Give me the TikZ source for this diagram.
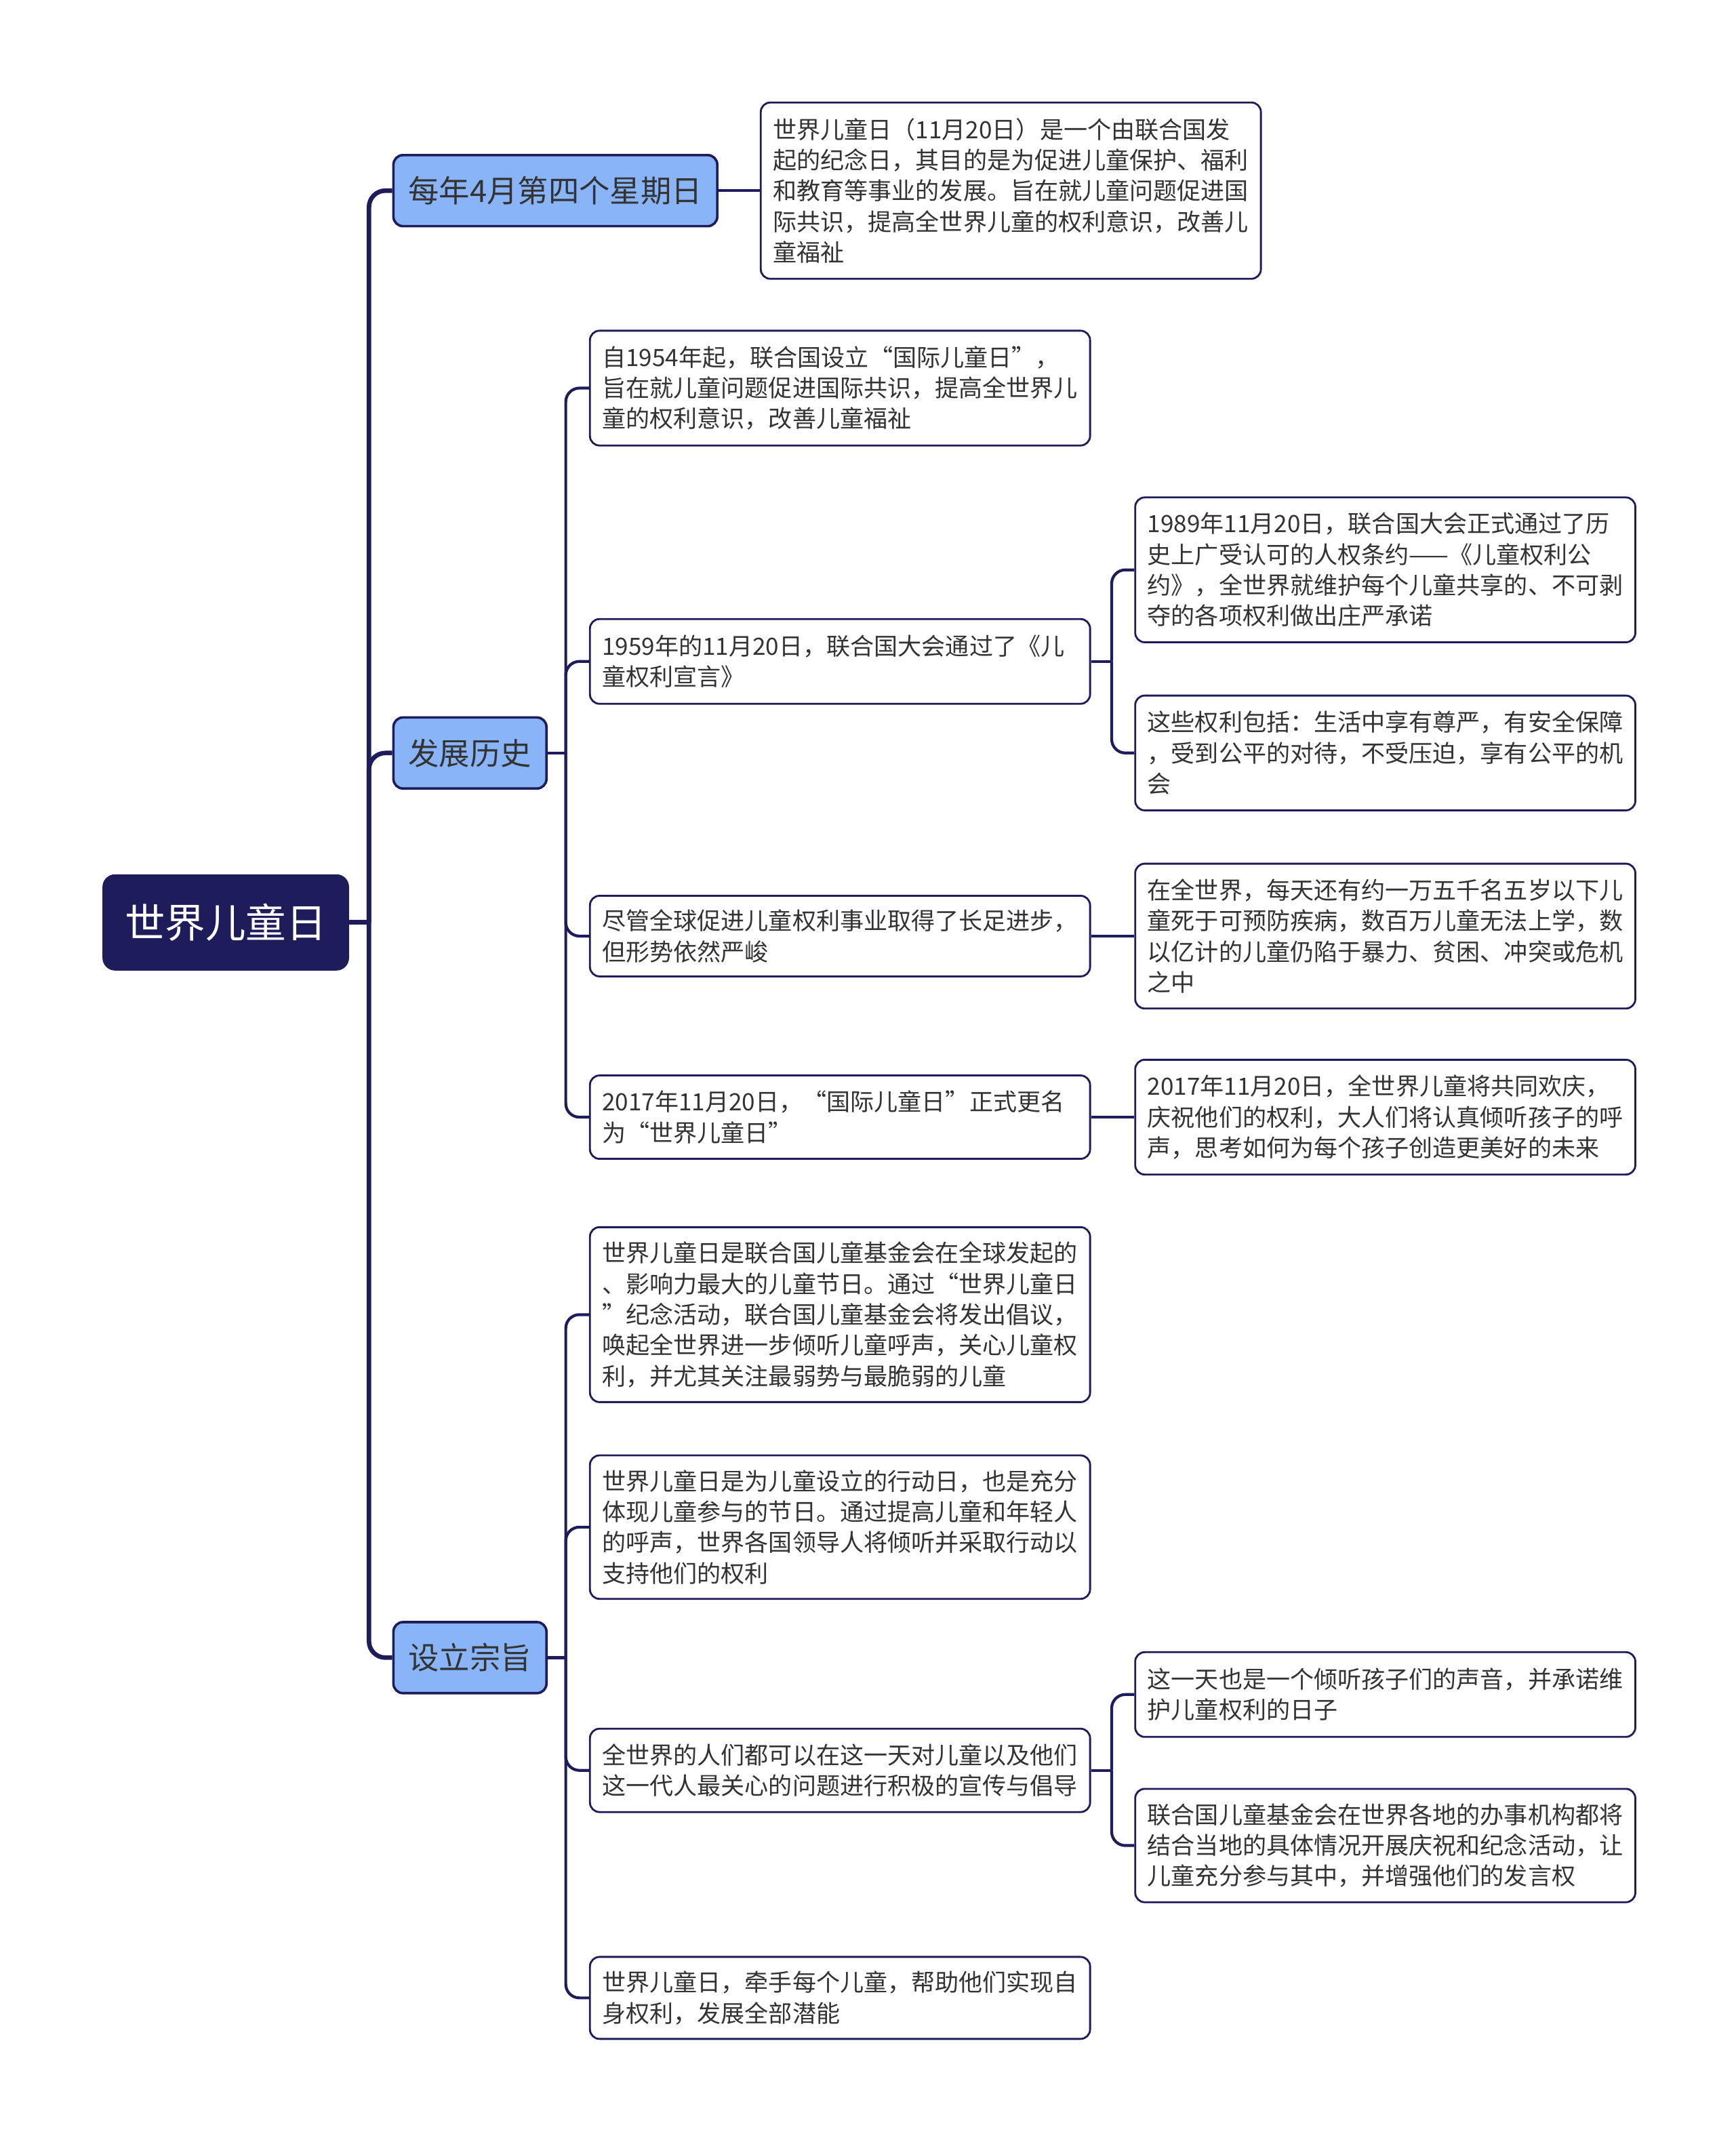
\documentclass[tikz,border=0pt]{standalone}
\usepackage{fontspec}
\setmainfont{Noto Sans CJK SC}
\usepackage{tikz}

\definecolor{navy}{RGB}{30,28,90}
\definecolor{skyfill}{RGB}{138,180,248}
\definecolor{txt}{RGB}{51,51,51}

\begin{document}
\begin{tikzpicture}[x=1pt,y=-1pt,
    rootbox/.style={anchor=west,fill=navy,draw=navy,rounded corners=9pt,text=white,
        minimum width=180pt,minimum height=70pt,font=\fontsize{29.5}{34}\selectfont},
    topic/.style={anchor=west,fill=skyfill,draw=navy,line width=1.8pt,rounded corners=7pt,
        text=txt,inner xsep=11pt,minimum height=52pt,font=\fontsize{22.5}{26}\selectfont},
    leaf/.style={anchor=west,fill=white,draw=navy,line width=1.4pt,rounded corners=7pt,
        text=txt,text width=348pt,inner xsep=9pt,align=left,
        font=\fontsize{17.4}{22.5}\selectfont},
    trunk/.style={draw=navy,line width=3.3pt,rounded corners=12pt},
    twig/.style={draw=navy,line width=2.1pt,rounded corners=10pt}]
        \useasboundingbox (0,0) rectangle (1270,1566);
        \node[rootbox] (root) at (75,675) {世界儿童日};
        \node[topic] (t1) at (287,139.5) {每年4月第四个星期日};
        \node[topic] (t2) at (287,551) {发展历史};
        \node[topic] (t3) at (287,1213) {设立宗旨};
        \node[leaf,minimum height=129pt] (a1) at (556,139.5) {世界儿童日（11月20日）是一个由联合国发\\起的纪念日，其目的是为促进儿童保护、福利\\和教育等事业的发展。旨在就儿童问题促进国\\际共识，提高全世界儿童的权利意识，改善儿\\童福祉};
        \node[leaf,minimum height=84pt] (b1) at (431,284) {自1954年起，联合国设立“国际儿童日”，\\旨在就儿童问题促进国际共识，提高全世界儿\\童的权利意识，改善儿童福祉};
        \node[leaf,minimum height=62pt] (b2) at (431,484) {1959年的11月20日，联合国大会通过了《儿\\童权利宣言》};
        \node[leaf,minimum height=59pt] (b3) at (431,685) {尽管全球促进儿童权利事业取得了长足进步，\\但形势依然严峻};
        \node[leaf,minimum height=61pt] (b4) at (431,817.5) {2017年11月20日，“国际儿童日”正式更名\\为“世界儿童日”};
        \node[leaf,minimum height=106pt] (b2a) at (830,417) {1989年11月20日，联合国大会正式通过了历\\史上广受认可的人权条约——《儿童权利公\\约》，全世界就维护每个儿童共享的、不可剥\\夺的各项权利做出庄严承诺};
        \node[leaf,minimum height=84pt] (b2b) at (830,551) {这些权利包括：生活中享有尊严，有安全保障\\，受到公平的对待，不受压迫，享有公平的机\\会};
        \node[leaf,minimum height=106pt] (b3a) at (830,685) {在全世界，每天还有约一万五千名五岁以下儿\\童死于可预防疾病，数百万儿童无法上学，数\\以亿计的儿童仍陷于暴力、贫困、冲突或危机\\之中};
        \node[leaf,minimum height=84pt] (b4a) at (830,817.5) {2017年11月20日，全世界儿童将共同欢庆，\\庆祝他们的权利，大人们将认真倾听孩子的呼\\声，思考如何为每个孩子创造更美好的未来};
        \node[leaf,minimum height=128pt] (c1) at (431,962) {世界儿童日是联合国儿童基金会在全球发起的\\、影响力最大的儿童节日。通过“世界儿童日\\”纪念活动，联合国儿童基金会将发出倡议，\\唤起全世界进一步倾听儿童呼声，关心儿童权\\利，并尤其关注最弱势与最脆弱的儿童};
        \node[leaf,minimum height=105pt] (c2) at (431,1117.5) {世界儿童日是为儿童设立的行动日，也是充分\\体现儿童参与的节日。通过提高儿童和年轻人\\的呼声，世界各国领导人将倾听并采取行动以\\支持他们的权利};
        \node[leaf,minimum height=61pt] (c3) at (431,1295.5) {全世界的人们都可以在这一天对儿童以及他们\\这一代人最关心的问题进行积极的宣传与倡导};
        \node[leaf,minimum height=62pt] (c3a) at (830,1240) {这一天也是一个倾听孩子们的声音，并承诺维\\护儿童权利的日子};
        \node[leaf,minimum height=83pt] (c3b) at (830,1350.5) {联合国儿童基金会在世界各地的办事机构都将\\结合当地的具体情况开展庆祝和纪念活动，让\\儿童充分参与其中，并增强他们的发言权};
        \node[leaf,minimum height=60pt] (c4) at (431,1462) {世界儿童日，牵手每个儿童，帮助他们实现自\\身权利，发展全部潜能};
        \coordinate (hub) at (270,675);
        \coordinate (hubb) at (414,551);
        \coordinate (hubc) at (414,1213);
        \coordinate (hubbb) at (813.5,484);
        \coordinate (hubcc) at (813.5,1295.5);
        \draw[trunk] (root.east) -- (hub);
        \foreach \n in {t1,t2,t3} \draw[trunk] (hub) |- (\n.west);
        \draw[twig] (t1.east) -- (a1.west);
        \draw[twig] (t2.east) -- (hubb);
        \foreach \n in {b1,b2,b3,b4} \draw[twig] (hubb) |- (\n.west);
        \draw[twig] (t3.east) -- (hubc);
        \foreach \n in {c1,c2,c3,c4} \draw[twig] (hubc) |- (\n.west);
        \draw[twig] (b2.east) -- (hubbb);
        \foreach \n in {b2a,b2b} \draw[twig] (hubbb) |- (\n.west);
        \draw[twig] (b3.east) -- (b3a.west);
        \draw[twig] (b4.east) -- (b4a.west);
        \draw[twig] (c3.east) -- (hubcc);
        \foreach \n in {c3a,c3b} \draw[twig] (hubcc) |- (\n.west);
    \end{tikzpicture}
\end{document}
